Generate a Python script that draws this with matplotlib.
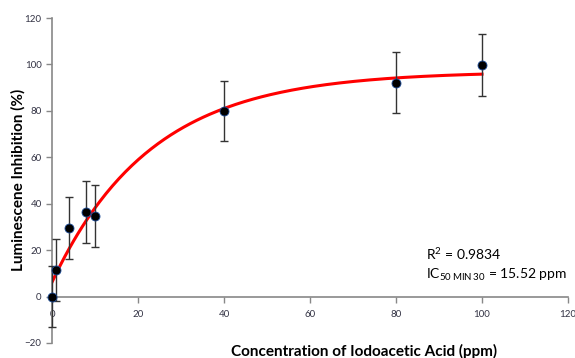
import numpy as np
import matplotlib
matplotlib.use("Agg")
import matplotlib.pyplot as plt

plt.rcParams['font.family'] = ['Lato', 'DejaVu Sans']
plt.rcParams['mathtext.fontset'] = 'custom'
plt.rcParams['mathtext.rm'] = 'Lato'

# measured points
conc = [0, 1, 4, 8, 10, 40, 80, 100]
inhibition = [0, 11.6, 29.7, 36.6, 34.6, 80.0, 92.2, 99.7]
err = [13.3, 13.4, 13.4, 13.4, 13.3, 13.0, 13.0, 13.4]

# exponential fit
fit_top = 97.0
fit_span = 90.8
fit_k = 0.0434

xticks = [0, 20, 40, 60, 80, 100, 120]
yticks = [-20, 0, 20, 40, 60, 80, 100, 120]

fig = plt.figure(figsize=(5.75, 3.58), dpi=100)
ax = fig.add_axes([52/575, 15/358, 516/575, 325/358])

xfit = np.linspace(0, 100, 200)
yfit = fit_top - fit_span * np.exp(-fit_k * xfit)
ax.plot(xfit, yfit, color='#ff0000', lw=2.2, zorder=2)

ax.errorbar(conc, inhibition, yerr=err, fmt='none', ecolor='#333333',
            elinewidth=1, capsize=3, capthick=1, zorder=3, clip_on=False)
ax.plot(conc, inhibition, 'o', color='black', markeredgecolor='#1f4e9a',
        markeredgewidth=0.6, markersize=6.5, zorder=4, clip_on=False)

ax.set_xlim(0, 120)
ax.set_ylim(-20, 120)
ax.set_xticks(xticks)
ax.set_yticks(yticks)
ax.spines['top'].set_visible(False)
ax.spines['right'].set_visible(False)
ax.spines['bottom'].set_position(('data', 0))
for s in ['left', 'bottom']:
    ax.spines[s].set_color('#888888')
    ax.spines[s].set_linewidth(1.2)
ax.tick_params(axis='both', colors='#888888', labelcolor='#333344',
               labelsize=7, length=4, width=1)
ax.tick_params(axis='x', pad=6)

fig.text(18/575, 1 - 180/358, 'Luminescene Inhibition (%)', rotation=90,
         ha='center', va='center', fontsize=11, fontweight='bold')
fig.text(364/575, 1 - 351/358, 'Concentration of Iodoacetic Acid (ppm)',
         ha='center', va='center', fontsize=11, fontweight='bold')

fig.text(426/575, 1 - 254/358, 'R$^2$ = 0.9834', fontsize=10, va='center', ha='left')
fig.text(426/575, 1 - 275/358, 'IC$_{\\mathrm{50\\,MIN\\,30}}$ = 15.52 ppm',
         fontsize=10, va='center', ha='left')

fig.savefig('out.png', dpi=100)
